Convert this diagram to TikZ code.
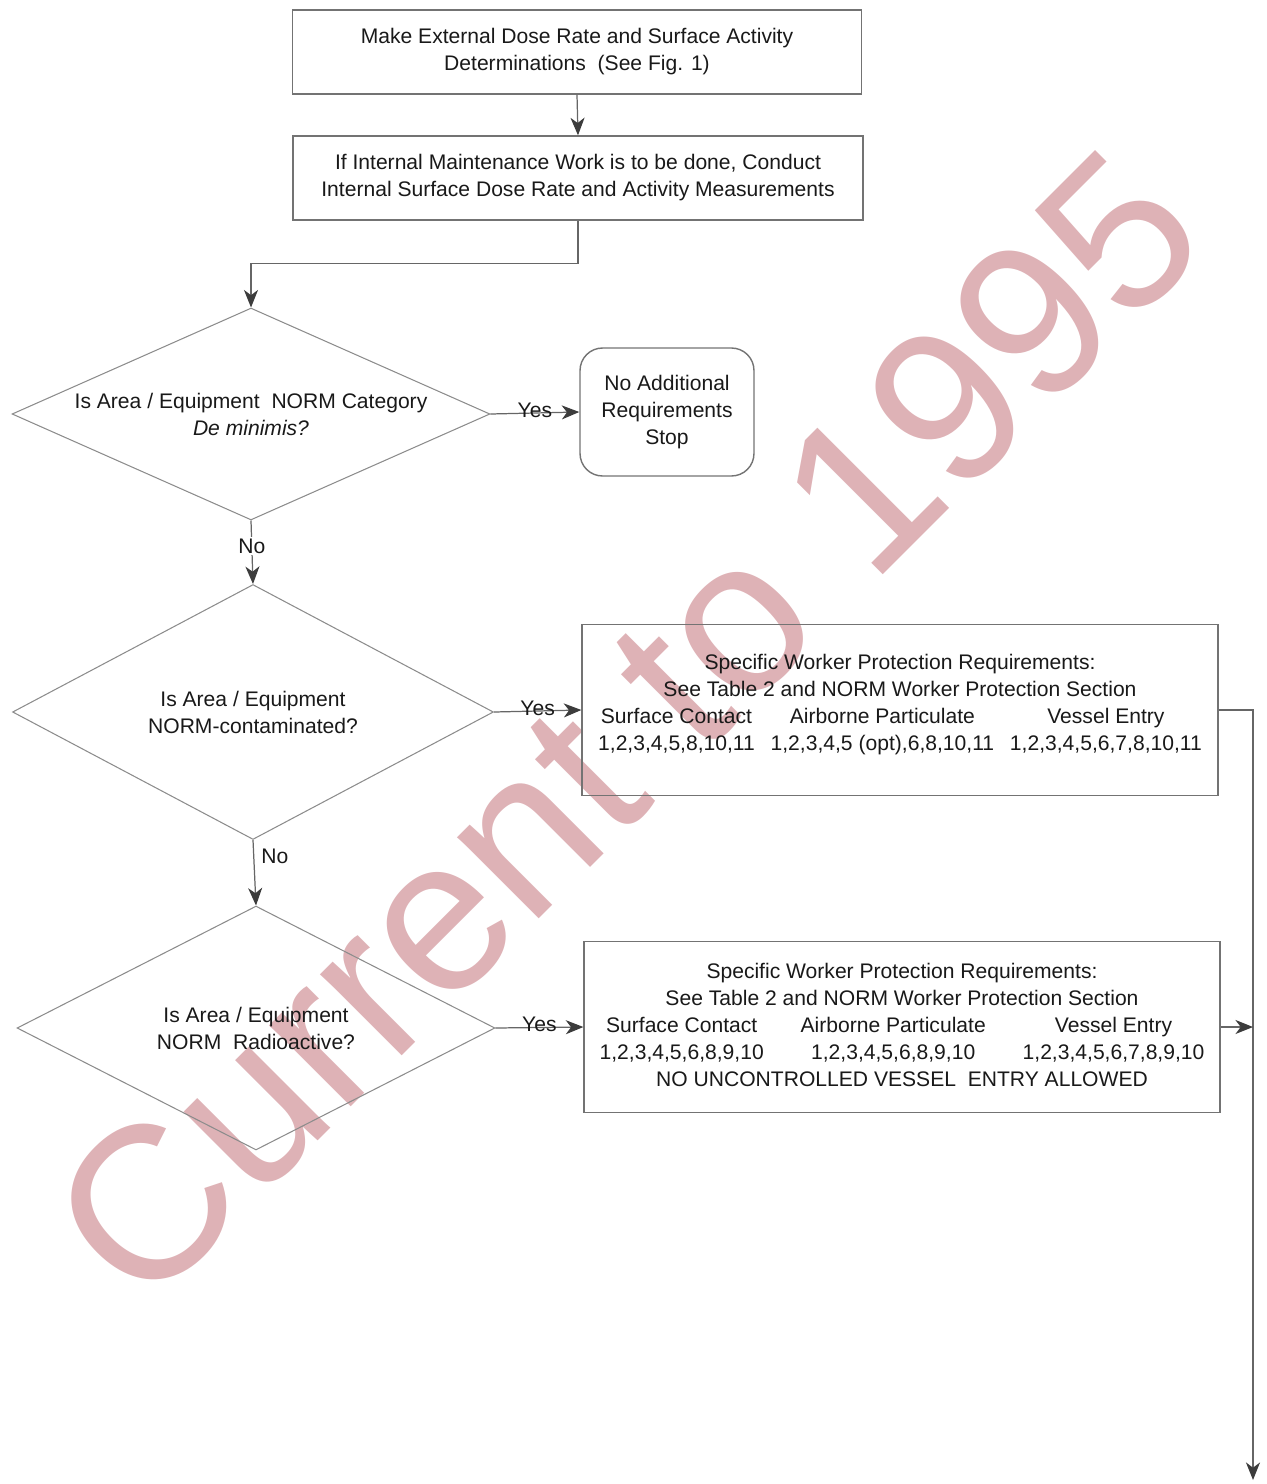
\documentclass[tikz,border=0pt]{standalone}
\usepackage{fontspec}
\setmainfont{Liberation Sans}
\usetikzlibrary{positioning}
\usetikzlibrary{arrows.meta,shapes.geometric}
\definecolor{stampred}{RGB}{222,178,182}
\definecolor{tipgray}{RGB}{60,60,60}

\begin{document}
\begin{tikzpicture}[
            x=0.02cm, y=-0.02cm,
            font=\fontsize{12}{15.4}\selectfont,
            text=black!90,
            flowline/.style={draw=black!60, line width=0.7pt},
            arrowline/.style={flowline, arrows={-Stealth[length=10pt, width=8pt, inset=3pt, color=tipgray]}},
            squarednode/.style={rectangle, draw=black!55, line width=0.8pt, align=center},
            stopnode/.style={rectangle, rounded corners=0.45cm, draw=black!55, line width=0.8pt, align=center, minimum width=3.48cm, minimum height=2.56cm},
            decisionnode/.style={diamond, draw=black!45, line width=0.6pt, align=center, inner sep=0pt},
            yesnode/.style={anchor=base, yshift=-2.3pt, inner sep=0pt},
        ]
            \useasboundingbox (0,0) rectangle (1267,1484);
            % Stamp
            \node[text=stampred, rotate=45, font=\fontsize{124}{124}\selectfont, inner sep=0pt] (stamp) at (626,726) {Current to 1995};
            % Nodes
            \node[squarednode, minimum width=11.38cm, minimum height=1.68cm] (survey) at (577,52) {Make External Dose Rate and Surface Activity\\Determinations~~(See Fig. 1)};
            \node[squarednode, minimum width=11.40cm, minimum height=1.68cm] (internal) at (578,178) {If Internal Maintenance Work is to be done, Conduct\\Internal Surface Dose Rate and Activity Measurements};
            \node[decisionnode, aspect=2.25, minimum width=9.56cm, minimum height=4.24cm] (deminimis) at (251,414) {Is Area / Equipment~~NORM Category\\\textit{De minimis?}};
            \node[stopnode] (stop) at (667,412) {No Additional\\Requirements\\Stop};
            \node[decisionnode, aspect=1.89, minimum width=9.62cm, minimum height=5.10cm] (contaminated) at (253,712) {Is Area / Equipment\\NORM-contaminated?};
            \node[squarednode, minimum width=12.72cm, minimum height=3.42cm] (contamreq) at (900,710) {%
                \begin{tabular}{@{}c@{\hspace{9pt}}c@{\hspace{9pt}}c@{}}
                \multicolumn{3}{c}{Specific Worker Protection Requirements:}\\
                \multicolumn{3}{c}{See Table 2 and NORM Worker Protection Section}\\
                Surface Contact & Airborne Particulate & Vessel Entry\\
                1,2,3,4,5,8,10,11 & 1,2,3,4,5 (opt),6,8,10,11 & 1,2,3,4,5,6,7,8,10,11\\[6pt]
                \end{tabular}};
            \node[decisionnode, aspect=1.96, minimum width=9.56cm, minimum height=4.88cm] (radioactive) at (256,1028) {Is Area / Equipment\\NORM~~Radioactive?};
            \node[squarednode, minimum width=12.72cm, minimum height=3.42cm] (radioreq) at (902,1027) {%
                \begin{tabular}{@{}c@{\hspace{21pt}}c@{\hspace{21pt}}c@{}}
                \multicolumn{3}{c}{Specific Worker Protection Requirements:}\\
                \multicolumn{3}{c}{See Table 2 and NORM Worker Protection Section}\\
                Surface Contact & Airborne Particulate & Vessel Entry\\
                1,2,3,4,5,6,8,9,10 & 1,2,3,4,5,6,8,9,10 & 1,2,3,4,5,6,7,8,9,10\\
                \multicolumn{3}{c}{NO UNCONTROLLED VESSEL~~ENTRY ALLOWED}\\
                \end{tabular}};
            \coordinate (bottomend) at (1253,1480);

            % Lines
            \draw[arrowline] (survey.south) -- (internal.north);
            \draw[arrowline] (internal.south) -- ++(0,43) -| (deminimis.north);
            \draw[arrowline] (deminimis.east) -- node[yesnode]{Yes} (stop.west);
            \draw[arrowline] (deminimis.south) -- node[pos=0.4, fill=white, inner sep=1pt]{No} (contaminated.north);
            \draw[arrowline] (contaminated.east) -- node[yesnode]{Yes} (contamreq.west);
            \draw[arrowline] (contaminated.south) -- node[pos=0.25, anchor=west, inner sep=4pt]{No} (radioactive.north);
            \draw[arrowline] (radioactive.east) -- node[yesnode]{Yes} (radioreq.west);
            \draw[arrowline] (contamreq.east) -| (bottomend);
            \draw[arrowline] (radioreq.east) -- (radioreq.east -| bottomend);
        \end{tikzpicture}
\end{document}
